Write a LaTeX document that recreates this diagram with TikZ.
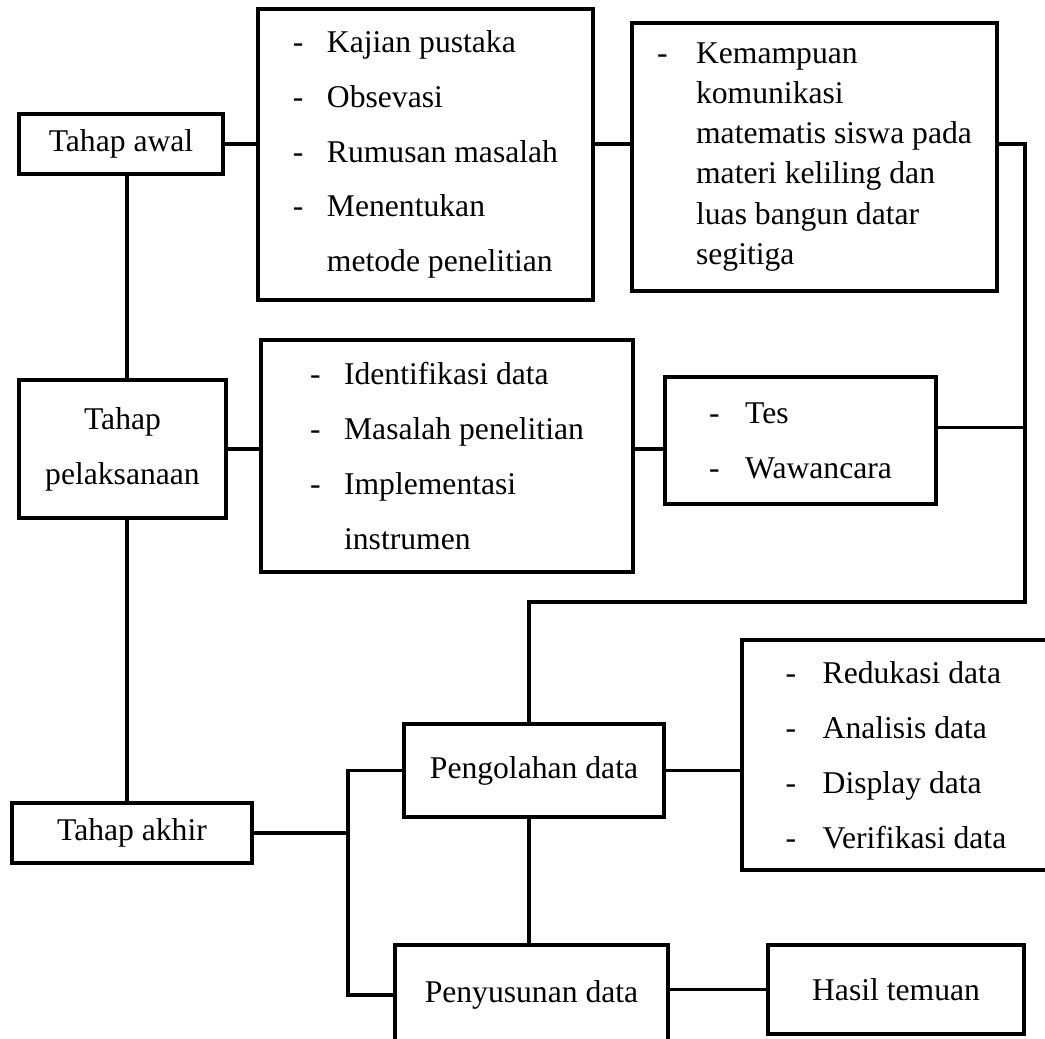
\documentclass[tikz,border=0pt]{standalone}
\usepackage{fontspec}
\setmainfont{Liberation Serif}
\newcommand{\guion}[1][0.34cm]{\makebox[#1][l]{-}}
\newcommand{\sangria}[1][0.34cm]{\hspace*{#1}}

\begin{document}
\begin{tikzpicture}[x=1cm,y=-1cm,
    caja/.style={draw, line width=0.9pt, inner sep=0pt, align=center, font=\fontsize{9}{15.6}\selectfont},
    lista/.style={caja, align=left},
    linea/.style={line width=0.9pt}]
    \useasboundingbox (0,0) rectangle (10.45,10.38);

    % Tahap
    \node[caja, minimum width=2.04cm, minimum height=0.60cm] (awal) at (1.21,1.44) {Tahap awal};
    \node[caja, minimum width=2.07cm, minimum height=1.38cm] (pel) at (1.225,4.49) {Tahap\\pelaksanaan};
    \node[caja, minimum width=2.40cm, minimum height=0.60cm] (akhir) at (1.32,8.33) {Tahap akhir};

    % Listas
    \node[lista, minimum width=3.35cm, minimum height=2.91cm] (kajian) at (4.255,1.545)
        {\guion Kajian pustaka\\ \guion Obsevasi\\ \guion Rumusan masalah\\ \guion Menentukan\\ \sangria metode penelitian};
    \node[lista, minimum width=3.65cm, minimum height=2.68cm, font=\fontsize{9}{11.4}\selectfont] (kemampuan) at (8.145,1.57)
        {\guion[0.39cm]Kemampuan\\ \sangria[0.39cm]komunikasi\\ \sangria[0.39cm]matematis siswa pada\\
         \sangria[0.39cm]materi keliling dan\\ \sangria[0.39cm]luas bangun datar\\ \sangria[0.39cm]segitiga};
    \node[lista, minimum width=3.72cm, minimum height=2.32cm] (ident) at (4.47,4.56)
        {\guion Identifikasi data\\ \guion Masalah penelitian\\ \guion Implementasi\\ \sangria instrumen};
    \node[lista, minimum width=2.71cm, minimum height=1.27cm] (tes) at (8.005,4.405)
        {\guion[0.36cm]Tes\\ \guion[0.36cm]Wawancara};
    \node[lista, minimum width=3.08cm, minimum height=2.30cm] (reduk) at (8.96,7.55)
        {\guion[0.37cm]Redukasi data\\ \guion[0.37cm]Analisis data\\ \guion[0.37cm]Display data\\ \guion[0.37cm]Verifikasi data};

    % Data
    \node[caja, minimum width=2.60cm, minimum height=0.93cm] (olah) at (5.34,7.705) {Pengolahan data};
    \node[caja, minimum width=2.73cm, minimum height=1.00cm] (susun) at (5.315,9.95) {Penyusunan data};
    \node[caja, minimum width=2.56cm, minimum height=0.89cm] (hasil) at (8.96,9.895) {Hasil temuan};

    \coordinate (eje) at (1.27,0);
    \coordinate (medio) at (5.29,0);
    \coordinate (kanan) at (10.25,6.02);
    \coordinate (trk) at (3.48,8.33);

    % Conexiones
    \draw[linea] (awal.south -| eje) -- (pel.north -| eje);
    \draw[linea] (pel.south -| eje) -- (akhir.north -| eje);
    \draw[linea] (awal.east) -- (awal.east -| kajian.west);
    \draw[linea] (kajian.east |- awal.east) -- (kemampuan.west |- awal.east);
    \draw[linea] (pel.east) -- (pel.east -| ident.west);
    \draw[linea] (ident.east |- pel.east) -- (tes.west |- pel.east);
    \draw[linea] (kemampuan.east |- awal.east) -| (kanan) -| (olah.north -| medio);
    \draw[linea] ([yshift=0.13cm]tes.east) -- ([yshift=0.13cm]tes.east -| kanan);
    \draw[linea] (akhir.east) -- (trk);
    \draw[linea] (olah.west) -- (olah.west -| trk) -- (susun.west -| trk) -- (susun.west);
    \draw[linea] (olah.south -| medio) -- (susun.north -| medio);
    \draw[linea] (olah.east) -- (olah.east -| reduk.west);
    \draw[linea] (hasil.west) -- (hasil.west -| susun.east);
\end{tikzpicture}
\end{document}
